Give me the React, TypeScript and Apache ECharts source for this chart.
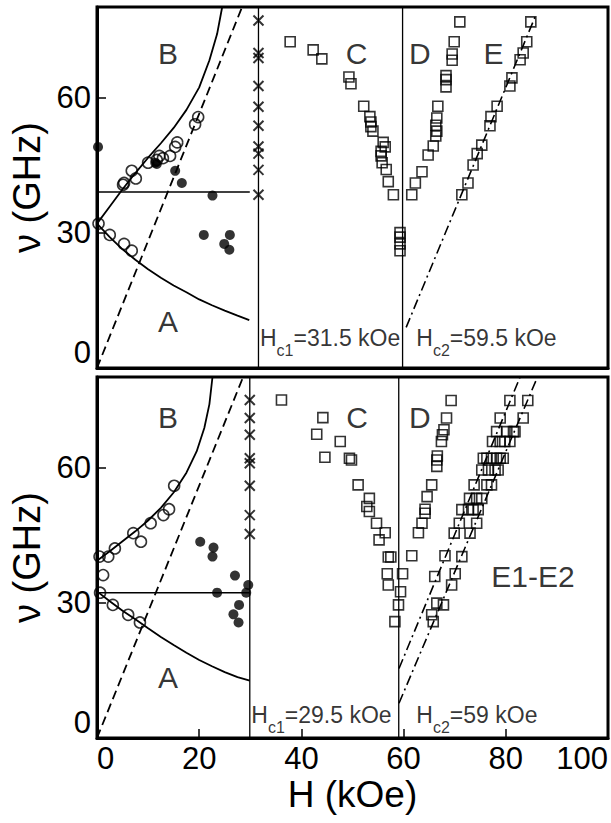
import React, { useEffect, useRef } from "react";
import * as echarts from "echarts";

// ---------- Top panel (Hc1 = 31.5 kOe, Hc2 = 59.5 kOe) ----------
const topOpen = [[0.3,32],[2.5,29.5],[5.3,27.5],[6.8,26],[5.1,40.6],[5.3,41],[6.8,43.7],[7.6,42],[10,45.5],[11.7,46.1],[12.2,47],[12.9,46.5],[14.3,47],[15.3,49],[15.7,50],[19.2,54],[19.8,55.6]];
const topFilled = [[0.2,49],[11.4,45.5],[11.7,45.2],[15.3,43.7],[16.6,41],[22.6,38.2],[20.9,29.5],[26,29.5],[24.9,27.5],[25.9,26.2]];
const topCrossH = 31.6;
const topCrossV = [77, 69.8, 68.7, 62.5, 57.9, 53.7, 49.1, 47.5, 43.9, 38.4];
const topC = [[37.8,72.3],[42.3,70.5],[44,68.5],[49.3,64.5],[49.7,63],[52.2,58],[53.4,55.7],[53.6,54.5],[53.6,53.5],[54,52.5],[56,50],[56.4,49],[55.6,48],[55.6,47],[55.8,45.5],[56.6,44],[57,41.3],[58,38.4],[59.3,30],[59.3,29],[59.3,27.5],[59.3,26]];
const topD = [[61.6,38.4],[62.3,41],[63.6,43.5],[64.8,47.2],[65.8,49.2],[66.3,51.4],[66.5,52.5],[66.3,53.8],[66.5,55.4],[66.7,58],[68.3,62.3],[68.3,63.9],[68.3,64.8],[69.5,68.2],[69.5,69.6],[69.9,72.3],[71,76.7]];
const topE = [[71.4,38.4],[72.6,41],[73.6,45],[74.4,47.5],[75.3,49.4],[76.9,53.7],[77.1,55.7],[78.3,58],[80.8,62.5],[81.2,64.3],[82.8,68.3],[83.4,69.8],[84.1,72.3],[84.9,76.7]];
const topCurveB = [[0,32],[2.5,35.8],[5,39.6],[7.5,43.2],[10,46.6],[12.5,49.8],[15,53.2],[17.5,57.2],[20,62.2],[22,68.2],[23.5,74],[24.5,80]];
const topCurveA = [[0,32],[2.5,29],[5,26.3],[7.5,24],[10,21.9],[12.5,20],[15,18.3],[17.5,16.8],[20,15.2],[22.5,13.9],[25,12.7],[27.5,11.6],[29.8,10.6]];
const topDashed = [[0,0],[28.4,80]];
const topHoriz = [[0,39],[29.9,39]];
const topDashDot = [[60.5,9],[85.8,78]];
const topHc1 = 31.6;
const topHc2 = 59.8;

// ---------- Bottom panel (Hc1 = 29.5 kOe, Hc2 = 59 kOe) ----------
const botOpen = [[0.5,40.2],[1.2,36.1],[0.6,32.2],[2.2,40.2],[3.5,42],[3.1,29.5],[6.1,27.3],[8.4,25.6],[7.1,45.4],[8.6,43.5],[10.5,47.6],[13,49.4],[14.1,50.7],[15.1,55.9]];
const botFilled = [[20.2,43.5],[22.8,42.2],[22.6,40.2],[23.5,32.2],[27,36],[29.6,33.9],[29.2,32.2],[27.8,29.5],[26.7,27.4],[27.7,25.6]];
const botCrossH = 29.9;
const botCrossV = [74.9, 70.9, 67.2, 62, 60.9, 55.9, 49.4, 45.2];
const botC = [[36.1,74.9],[44.2,71],[43,67.3],[47.6,65.7],[44.6,62.2],[49.4,62],[49.8,61.6],[51.1,56.1],[53.3,53.1],[52.8,51.3],[53.3,50.2],[54.7,47.6],[56.4,45.5],[55.2,43.9],[57,40.1],[57.5,40.1],[56.8,36.4],[57,33.9],[59.8,36.4],[59.4,32.4],[59,29.5],[58.3,25.8]];
const botD = [[61.6,40.4],[62.9,45.5],[63.6,47.6],[64.2,49.8],[64.2,50.7],[64.6,53.5],[65.5,56.1],[66.5,60.2],[66.5,61.6],[66.6,62.5],[67.4,65.7],[67.6,67.2],[67.9,68.3],[68.4,70.9],[69.3,74.8]];
const botE1 = [[65.5,27.3],[66.5,29.9],[66.1,35.8],[68.1,40.4],[69.9,45.4],[70.9,47.6],[71.4,50.6],[72.9,53.1],[73.8,56.1],[75.3,59.4],[75.6,62],[77.4,65.7],[78.2,67.9],[78.9,70.9],[80.8,74.8]];
const botE2 = [[65.8,25.8],[67.8,29.5],[69.4,33.9],[70.1,36.4],[71.4,40.2],[73,45.4],[74.3,47.6],[74.6,50.6],[75.3,53.1],[77.2,56.1],[78.5,59.4],[79.5,62],[80.8,65.7],[81.8,67.9],[83.4,70.9],[84.3,74.8]];
const botEextra = [[76.3,62],[77.2,62],[78.2,62],[78.9,62],[77.9,59.4],[76.6,59.4],[78.9,65.7],[79.8,65.7],[81.5,67.9],[80.2,67.9],[76.3,56.1],[74.3,53.1],[72.7,50.6],[73.6,50.6]];
const botCurveB = [[0,39.3],[2.5,41.4],[5,43.6],[7.5,45.8],[10,48.2],[12.5,51],[15,54.4],[17.5,58.8],[19.5,63.5],[21,68.7],[22,74],[22.6,80]];
const botCurveA = [[0,32.5],[2.5,30.3],[5,28.2],[7.5,26.3],[10,24.3],[12.5,22.4],[15,20.6],[17.5,18.9],[20,17.3],[22.5,15.9],[25,14.6],[27.5,13.5],[29.9,12.7]];
const botDashed = [[0,0],[28.6,80]];
const botHoriz = [[0,32.2],[29.9,32.2]];
const botDashDot1 = [[59.1,15.4],[82.8,80]];
const botDashDot2 = [[59.1,7.7],[86.2,80]];
const botHc1 = 29.9;
const botHc2 = 59.05;

// ---------- Ticks ----------
const xTicks = [0, 20, 40, 60, 80, 100];
const yTicks = [0, 30, 60];

// ---------- Annotations [H, nu, text, position] ----------
const topNotes = [
  [13.9, 69.6, "B", "inside"],
  [13.9, 10.4, "A", "inside"],
  [50.8, 69.6, "C", "inside"],
  [63.2, 69.6, "D", "inside"],
  [77.6, 69.6, "E", "inside"],
  [31.8, 6.7, "{m|H}{s|c1}{m|=31.5 kOe}", "right"],
  [62.4, 6.7, "{m|H}{s|c2}{m|=59.5 kOe}", "right"],
];
const botNotes = [
  [13.9, 71, "B", "inside"],
  [13.9, 13.5, "A", "inside"],
  [50.9, 71, "C", "inside"],
  [63.2, 71, "D", "inside"],
  [85.3, 35.7, "E1-E2", "inside"],
  [30.1, 5.2, "{m|H}{s|c1}{m|=29.5 kOe}", "right"],
  [62.4, 5.2, "{m|H}{s|c2}{m|=59 kOe}", "right"],
];

const FONT = "Liberation Sans";
const BLACK = "#000";
const CLEAR = "rgba(0,0,0,0)";

function lineS(g: number, data: number[][], width: number, type: any) {
  return {
    type: "line", xAxisIndex: g, yAxisIndex: g, data, symbol: "none", silent: true,
    lineStyle: { color: BLACK, width, type }, z: 2,
  };
}
function vline(g: number, h: number) {
  return lineS(g, [[h, 0], [h, 80]], 1.3, "solid");
}
function scat(g: number, data: number[][], symbol: string, size: number, filled: boolean, bw = 1.6) {
  return {
    type: "scatter", xAxisIndex: g, yAxisIndex: g, data, symbol, symbolSize: size, silent: true,
    itemStyle: filled ? { color: BLACK } : { color: CLEAR, borderColor: BLACK, borderWidth: bw },
    z: 3,
  };
}
function notes(g: number, list: any[]) {
  return {
    type: "scatter", xAxisIndex: g, yAxisIndex: g, symbolSize: 1, silent: true,
    itemStyle: { color: CLEAR },
    data: list.map((n) => ({
      value: [n[0], n[1]],
      label: {
        show: true, position: n[3], distance: 0, formatter: n[2],
        color: BLACK, fontFamily: FONT, fontSize: 30,
        rich: {
          m: { fontSize: 23, fontFamily: FONT, color: BLACK, lineHeight: 22, verticalAlign: "top" },
          s: { fontSize: 16, fontFamily: FONT, color: BLACK, lineHeight: 14, verticalAlign: "top", padding: [16, 0, 0, 0] },
        },
      },
    })),
    z: 4,
  };
}

const X_SYMBOL = "path://M0,0L10,10M10,0L0,10";

export default function App() {
  const ref = useRef<HTMLDivElement>(null);
  useEffect(() => {
    if (!ref.current) return;
    const chart = echarts.init(ref.current, undefined, { renderer: "svg" });
    const axisLine = { show: true, lineStyle: { color: BLACK, width: 3 } };
    const yAxisBase = (g: number) => ({
      gridIndex: g, type: "value", min: 0, max: 80,
      name: "ν (GHz)", nameLocation: "middle", nameGap: 48,
      nameTextStyle: { fontSize: 38, color: BLACK, fontFamily: FONT },
      axisLine,
      axisTick: { show: true, inside: true, length: 9, lineStyle: { color: BLACK, width: 1.5 }, customValues: yTicks },
      axisLabel: { show: true, fontSize: 31, color: BLACK, fontFamily: FONT, margin: 6, customValues: yTicks, verticalAlignMinLabel: "bottom" },
      splitLine: { show: false },
    });
    const gridBase = { left: 97, width: 511, height: 361, show: true, borderColor: BLACK, borderWidth: 3, backgroundColor: "#fff", containLabel: false, outerBoundsMode: "none" };
    chart.setOption({
      animation: false,
      textStyle: { fontFamily: FONT },
      grid: [
        { ...gridBase, top: 7 },
        { ...gridBase, top: 377 },
      ],
      xAxis: [
        {
          gridIndex: 0, type: "value", min: 0, max: 100, interval: 20,
          axisLine, axisTick: { show: false }, axisLabel: { show: false }, splitLine: { show: false },
        },
        {
          gridIndex: 1, type: "value", min: 0, max: 100, interval: 20,
          name: "H (kOe)", nameLocation: "middle", nameGap: 38,
          nameTextStyle: { fontSize: 37, color: BLACK, fontFamily: FONT },
          axisLine,
          axisTick: { show: true, inside: true, length: 9, lineStyle: { color: BLACK, width: 1.5 }, customValues: xTicks },
          axisLabel: { show: true, fontSize: 31, color: BLACK, fontFamily: FONT, margin: 5, customValues: xTicks, alignMinLabel: "left", alignMaxLabel: "right" },
          splitLine: { show: false },
        },
      ],
      yAxis: [yAxisBase(0), yAxisBase(1)],
      series: [
        // top panel
        vline(0, topHc1),
        vline(0, topHc2),
        lineS(0, topCurveB, 1.8, "solid"),
        lineS(0, topCurveA, 1.8, "solid"),
        lineS(0, topHoriz, 1.6, "solid"),
        lineS(0, topDashed, 1.8, [9, 5]),
        lineS(0, topDashDot, 1.6, [10, 4, 2, 4]),
        scat(0, topOpen, "circle", 11, false),
        scat(0, topFilled, "circle", 10, true),
        scat(0, topCrossV.map((v) => [topCrossH, v]), X_SYMBOL, 10, false, 2),
        scat(0, topC, "rect", 10, false),
        scat(0, topD, "rect", 10, false),
        scat(0, topE, "rect", 10, false),
        notes(0, topNotes),
        // bottom panel
        vline(1, botHc1),
        vline(1, botHc2),
        lineS(1, botCurveB, 1.8, "solid"),
        lineS(1, botCurveA, 1.8, "solid"),
        lineS(1, botHoriz, 1.6, "solid"),
        lineS(1, botDashed, 1.8, [9, 5]),
        lineS(1, botDashDot1, 1.6, [10, 4, 2, 4]),
        lineS(1, botDashDot2, 1.6, [10, 4, 2, 4]),
        scat(1, botOpen, "circle", 11, false),
        scat(1, botFilled, "circle", 10, true),
        scat(1, botCrossV.map((v) => [botCrossH, v]), X_SYMBOL, 10, false, 2),
        scat(1, botC, "rect", 10, false),
        scat(1, botD, "rect", 10, false),
        scat(1, botE1, "rect", 10, false),
        scat(1, botE2, "rect", 10, false),
        scat(1, botEextra, "rect", 10, false),
        notes(1, botNotes),
      ],
    });
    return () => chart.dispose();
  }, []);
  return <div ref={ref} style={{ position: "absolute", left: 0, top: 0, width: 611, height: 823 }} />;
}
